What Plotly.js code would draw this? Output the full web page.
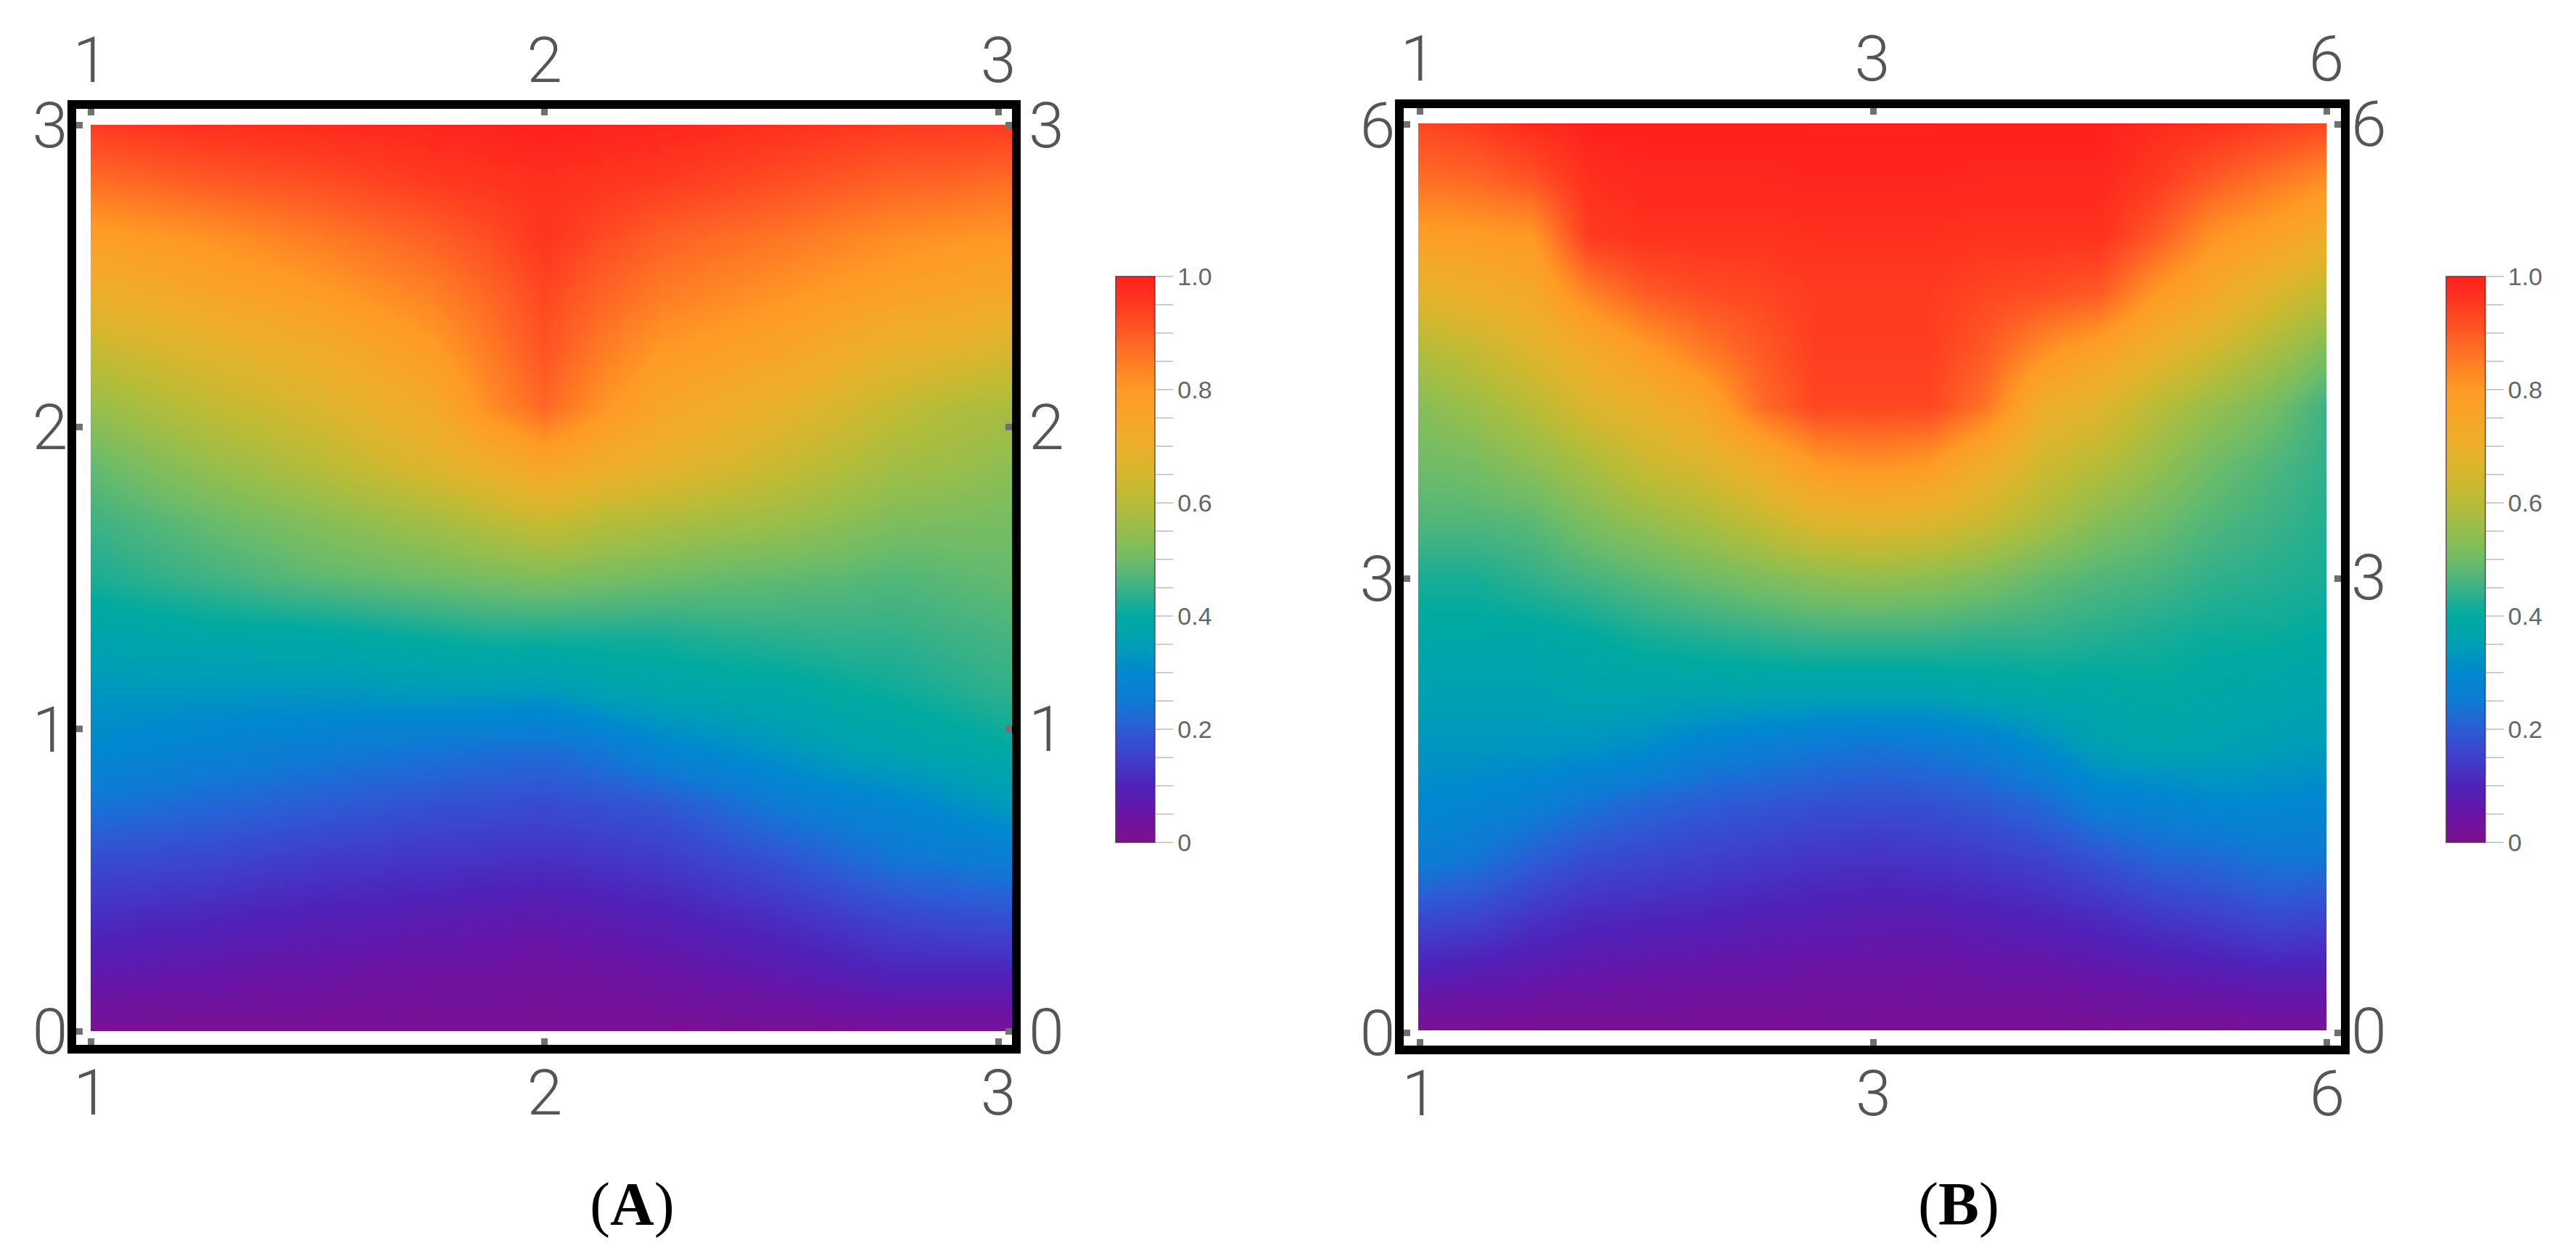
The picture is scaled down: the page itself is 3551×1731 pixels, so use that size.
<!DOCTYPE html>
<html>
<head>
<meta charset="utf-8">
<script src="https://cdn.plot.ly/plotly-3.0.1.min.js"></script>
<style>
html, body { margin: 0; padding: 0; background: #fff; }
#chart { width: 3551px; height: 1731px; }
</style>
</head>
<body>
<div id="chart"></div>
<script>
// grid positions of panel A
const xA = [1, 1.125, 1.25, 1.375, 1.5, 1.625, 1.75, 1.875, 2, 2.129, 2.258, 2.386, 2.515, 2.644, 2.773, 2.901, 3.03];
const yA = [3, 2.8125, 2.625, 2.4375, 2.25, 2.0625, 1.875, 1.6875, 1.5, 1.3125, 1.125, 0.9375, 0.75, 0.5625, 0.375, 0.1875, 0];

// values, top row first
const zA = [
  [.95,.96,.97,.975,.98,.985,.99,.995,1,.995,.99,.98,.97,.96,.95,.95,.95],
  [.87,.885,.90,.91,.92,.935,.95,.96,.97,.96,.95,.935,.92,.905,.89,.885,.87],
  [.78,.795,.81,.83,.85,.87,.89,.92,.96,.925,.89,.875,.86,.84,.82,.81,.80],
  [.70,.725,.75,.77,.79,.815,.84,.88,.93,.885,.85,.83,.81,.79,.77,.755,.74],
  [.62,.645,.67,.695,.72,.755,.79,.85,.91,.85,.80,.78,.76,.725,.69,.675,.65],
  [.55,.58,.61,.635,.66,.695,.73,.82,.88,.81,.75,.72,.69,.655,.62,.59,.58],
  [.49,.52,.55,.575,.60,.635,.67,.71,.76,.72,.69,.66,.63,.60,.57,.56,.54],
  [.45,.47,.49,.51,.53,.55,.57,.60,.63,.60,.585,.57,.56,.54,.52,.515,.51],
  [.42,.435,.45,.465,.48,.49,.50,.51,.52,.51,.50,.49,.485,.48,.47,.48,.49],
  [.37,.38,.385,.39,.39,.40,.41,.42,.42,.42,.42,.43,.435,.44,.44,.45,.46],
  [.33,.33,.33,.33,.33,.335,.34,.34,.335,.36,.375,.38,.385,.40,.41,.425,.44],
  [.30,.29,.28,.27,.26,.25,.245,.235,.23,.25,.29,.31,.33,.355,.37,.385,.40],
  [.24,.23,.22,.21,.20,.19,.18,.175,.17,.18,.19,.22,.255,.275,.29,.315,.34],
  [.17,.165,.16,.15,.14,.135,.13,.125,.12,.13,.14,.16,.18,.21,.24,.25,.26],
  [.12,.11,.105,.095,.09,.085,.08,.075,.07,.08,.09,.105,.12,.14,.16,.17,.18],
  [.07,.065,.06,.055,.05,.045,.04,.04,.035,.04,.05,.06,.07,.085,.10,.10,.10],
  [.01,.01,.01,.01,.01,.01,.01,.01,.01,.01,.01,.012,.015,.018,.02,.02,.02]
];

// grid positions of panel B
const xB = [1, 1.3125, 1.625, 1.9375, 2.25, 2.5625, 2.875, 3.1875, 3.5, 3.8125, 4.125, 4.4375, 4.75, 5.0625, 5.375, 5.6875, 6];
const yB = [6, 5.625, 5.25, 4.875, 4.5, 4.125, 3.75, 3.375, 3, 2.625, 2.25, 1.875, 1.5, 1.125, 0.75, 0.375, 0];

// values, top row first
const zB = [
  [.93,.95,.98,1,1,1,1,1,1,1,1,1,1,.98,.97,.95,.93],
  [.87,.88,.91,.97,.985,.985,.985,.99,.99,.99,.985,.985,.985,.95,.90,.86,.82],
  [.78,.79,.80,.95,.965,.965,.965,.97,.97,.97,.965,.965,.965,.90,.81,.77,.72],
  [.68,.71,.74,.84,.90,.92,.93,.95,.95,.95,.93,.92,.90,.80,.74,.67,.61],
  [.59,.62,.67,.73,.79,.85,.90,.945,.945,.945,.90,.82,.77,.70,.64,.58,.52],
  [.53,.56,.60,.66,.70,.75,.87,.93,.93,.93,.86,.71,.67,.60,.55,.51,.45],
  [.50,.51,.54,.58,.63,.66,.72,.80,.82,.80,.72,.64,.60,.55,.50,.47,.44],
  [.47,.47,.48,.52,.55,.58,.62,.67,.68,.67,.63,.58,.53,.50,.47,.45,.43],
  [.42,.42,.44,.46,.48,.50,.52,.54,.55,.54,.52,.49,.47,.46,.44,.43,.42],
  [.39,.39,.39,.40,.42,.43,.44,.45,.45,.45,.44,.44,.43,.42,.41,.41,.40],
  [.36,.36,.36,.37,.37,.37,.37,.37,.37,.37,.38,.39,.39,.40,.39,.38,.37],
  [.33,.33,.33,.325,.31,.28,.265,.25,.24,.25,.27,.31,.355,.37,.36,.35,.34],
  [.30,.29,.27,.24,.215,.20,.19,.18,.175,.18,.195,.22,.27,.28,.30,.30,.29],
  [.26,.24,.20,.17,.16,.15,.14,.13,.125,.13,.14,.155,.18,.21,.22,.24,.24],
  [.17,.16,.13,.11,.105,.10,.09,.085,.08,.08,.09,.10,.115,.135,.15,.17,.16],
  [.09,.08,.07,.06,.055,.05,.05,.045,.045,.04,.05,.05,.06,.07,.08,.09,.09],
  [.01,.01,.01,.01,.01,.01,.01,.01,.01,.01,.01,.01,.012,.015,.015,.02,.02]
];

// tick positions and their labels (panel B is labelled 1, 3, 6 at even spacing)
const xTicksA = [1, 2, 3];
const xLabelsA = ['1', '2', '3'];
const yTicksA = [0, 1, 2, 3];
const yLabelsA = ['0', '1', '2', '3'];
const xTicksB = [1, 3.5, 6];
const xLabelsB = ['1', '3', '6'];
const yTicksB = [0, 3, 6];
const yLabelsB = ['0', '3', '6'];

const barTicks = [0, .05, .1, .15, .2, .25, .3, .35, .4, .45, .5, .55, .6, .65, .7, .75, .8, .85, .9, .95, 1];
const barLabels = ['0', '', '', '', '0.2', '', '', '', '0.4', '', '', '', '0.6', '', '', '', '0.8', '', '', '', '1.0'];

const rainbow = [
  [0, '#7E1090'], [.05, '#6A14A5'], [.1, '#4F22BA'], [.15, '#3F3FCC'], [.2, '#2C5CD6'],
  [.25, '#0F7AD4'], [.3, '#0088CF'], [.35, '#009FB5'], [.4, '#00AAA0'], [.45, '#3DB285'],
  [.5, '#6FBC68'], [.55, '#95BE4D'], [.6, '#B7BC38'], [.65, '#D5B72E'], [.7, '#EBB02A'],
  [.75, '#F6A628'], [.8, '#FF9A24'], [.85, '#FF7C24'], [.9, '#FF5A24'], [.95, '#FF3A20'], [1, '#FF201C']
];

const W = 3551, H = 1731;
const domX = (a, b) => [a / W, b / W];
const domY = (top, bottom) => [1 - bottom / H, 1 - top / H];

const tickFont = { family: 'Roboto', size: 88, color: '#555555', weight: 300 };

function heat(x, y, z, xaxis, yaxis, barLeft) {
  return {
    type: 'heatmap', x: x, y: y, z: z, xaxis: xaxis, yaxis: yaxis,
    zmin: 0, zmax: 1, zsmooth: 'best', colorscale: rainbow,
    colorbar: {
      x: barLeft / W, xanchor: 'left', xpad: 0, ypad: 0,
      y: 1 - 771 / H, yanchor: 'middle',
      thickness: 54, thicknessmode: 'pixels', len: 780, lenmode: 'pixels',
      outlinewidth: 2, outlinecolor: 'rgba(70,40,60,0.6)',
      tickmode: 'array', tickvals: barTicks, ticktext: barLabels,
      ticks: 'outside', ticklen: 24, tickwidth: 2, tickcolor: '#cccccc',
      tickfont: { family: 'Liberation Sans', size: 34, color: '#666666' }
    }
  };
}

// empty trace so the frame subplot gets drawn
function frameTrace(xaxis, yaxis, x, y) {
  return { type: 'scatter', mode: 'markers', x: [x], y: [y], xaxis: xaxis, yaxis: yaxis,
    marker: { opacity: 0 }, hoverinfo: 'skip' };
}

// heat axes hold the image and the top/right labels
function heatX(dom, range, vals, text, anchor) {
  return { domain: dom, range: range, anchor: anchor, side: 'top', showgrid: false, zeroline: false,
    tickmode: 'array', tickvals: vals, ticktext: text, ticks: '', tickfont: tickFont, ticklabelstandoff: 40 };
}
function heatY(dom, range, vals, text, anchor, standoff) {
  return { domain: dom, range: range, anchor: anchor, side: 'right', showgrid: false, zeroline: false,
    tickmode: 'array', tickvals: vals, ticktext: text, ticks: '', tickfont: tickFont, ticklabelstandoff: standoff };
}
// frame axes hold the black box, the ticks and the bottom/left labels
function frameAxis(dom, range, vals, text, anchor, standoff) {
  return { domain: dom, range: range, anchor: anchor, showgrid: false, zeroline: false,
    showline: true, linewidth: 12, linecolor: '#000000', mirror: 'allticks',
    tickmode: 'array', tickvals: vals, ticktext: text,
    ticks: 'inside', ticklen: 9, tickwidth: 9, tickcolor: '#707070', tickfont: tickFont, ticklabelstandoff: standoff };
}

const data = [
  heat(xA, yA, zA, 'x', 'y', 1538),
  frameTrace('x2', 'y2', 2, 1.5),
  heat(xB, yB, zB, 'x3', 'y3', 3372),
  frameTrace('x4', 'y4', 3.5, 3)
];

const layout = {
  width: W, height: H,
  margin: { l: 0, r: 0, t: 0, b: 0 },
  paper_bgcolor: '#ffffff', plot_bgcolor: 'rgba(0,0,0,0)',
  showlegend: false,
  xaxis: heatX(domX(125, 1395), [1, 3.03], xTicksA, xLabelsA, 'y'),
  yaxis: heatY(domY(172, 1421), [0, 3], yTicksA, yLabelsA, 'x', 22),
  xaxis2: frameAxis(domX(105, 1395), [0.967, 3.03], xTicksA, xLabelsA, 'y2', -22),
  yaxis2: frameAxis(domY(150, 1440), [-0.0456, 3.053], yTicksA, yLabelsA, 'x2', -18),
  xaxis3: heatX(domX(1955, 3207), [1, 6], xTicksB, xLabelsB, 'y3'),
  yaxis3: heatY(domY(170, 1420), [0, 6], yTicksB, yLabelsB, 'x3', 33),
  xaxis4: frameAxis(domX(1935, 3227), [0.912, 6.076], xTicksB, xLabelsB, 'y4', -22),
  yaxis4: frameAxis(domY(149, 1441), [-0.086, 6.11], yTicksB, yLabelsB, 'x4', -18),
  annotations: [
    { text: '(<b>A</b>)', x: 871 / W, y: 1 - 1660 / H },
    { text: '(<b>B</b>)', x: 2700 / W, y: 1 - 1660 / H }
  ].map(a => Object.assign(a, {
    xref: 'paper', yref: 'paper', xanchor: 'center', yanchor: 'middle', showarrow: false,
    font: { family: 'Liberation Serif', size: 84, color: '#000000' }
  }))
};

Plotly.newPlot('chart', data, layout, { displayModeBar: false });
</script>
</body>
</html>
